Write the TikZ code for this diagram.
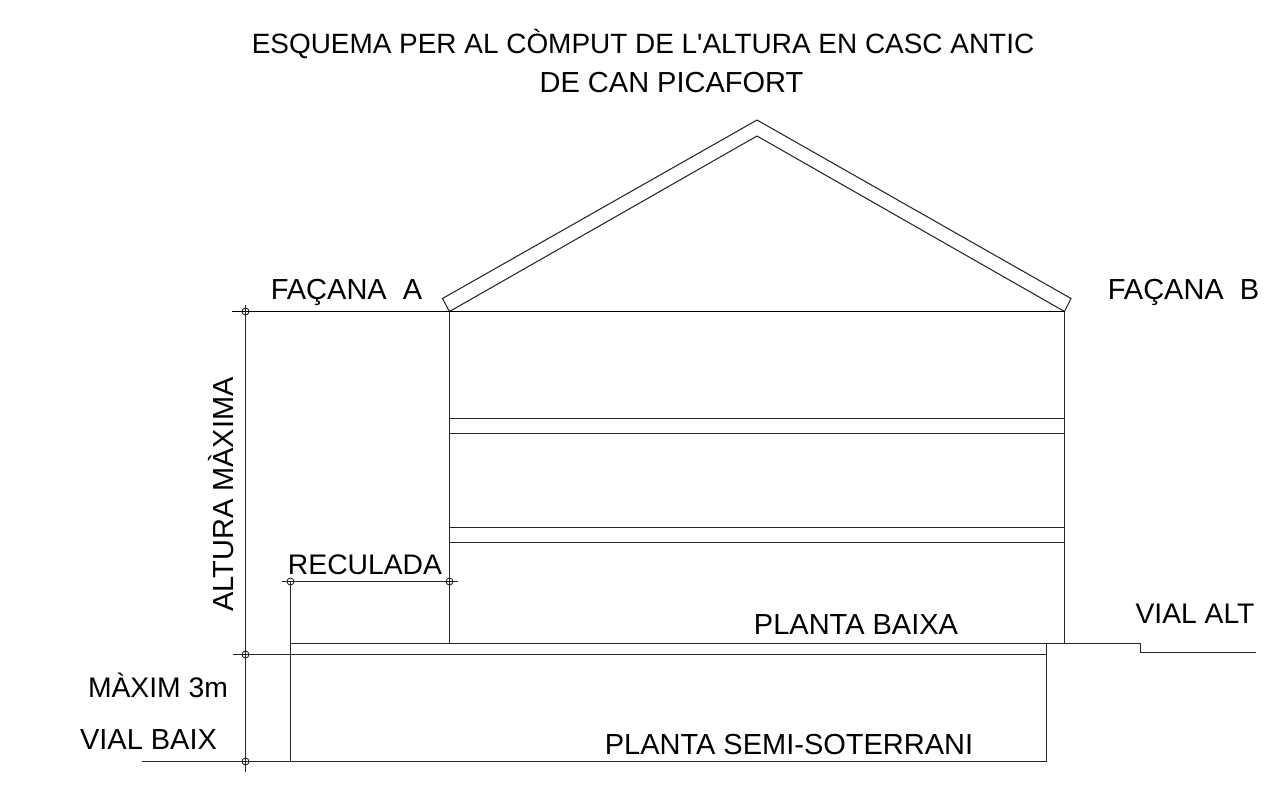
\documentclass[tikz,border=0pt]{standalone}
\usepackage{fontspec}
\setmainfont{Liberation Sans}
\usepackage{tikz}
\usetikzlibrary{positioning}
\tikzstyle{label} = [inner sep=0pt, anchor=base, text=black, font=\fontsize{16.5}{18}\selectfont]
\tikzstyle{tick} = [circle, draw=black!85, line width=0.5pt, minimum size=0.14cm, inner sep=0pt]
\tikzstyle{wall} = [line width=0.6pt, draw=black!85]
\begin{document}
\begin{tikzpicture}[x=0.02cm,y=-0.02cm]
 \useasboundingbox (0,0) rectangle (1274,788);
% texts
 \node[label,font=\fontsize{15.9}{18}\selectfont] (title) at (643,53.5) {ESQUEMA PER AL CÒMPUT DE L\textquotesingle ALTURA EN CASC ANTIC};
 \node[label] (subtitle) at (671.5,92.5) {DE CAN PICAFORT};
 \node[label] (facanaa) at (346.5,299) {FAÇANA\ \ A};
 \node[label] (facanab) at (1183.5,299) {FAÇANA\ \ B};
 \node[label,rotate=90] (altura) at (233,494.5) {ALTURA MÀXIMA};
 \node[label,font=\fontsize{16.1}{18}\selectfont] (reculada) at (365,574) {RECULADA};
 \node[label] (baixa) at (856,634.5) {PLANTA BAIXA};
 \node[label,font=\fontsize{16.1}{18}\selectfont] (vialalt) at (1195,623) {VIAL ALT};
 \node[label,font=\fontsize{16.1}{18}\selectfont] (maxim) at (158,697) {MÀXIM 3m};
 \node[label] (vialbaix) at (148.5,749) {VIAL BAIX};
 \node[label] (semi) at (789,754.5) {PLANTA SEMI-SOTERRANI};
% roof
 \coordinate (wallatop) at (449.5,311.5);
 \coordinate (wallbtop) at (1064.5,311.5);
 \coordinate (apexin) at (757,136);
 \coordinate (apexout) at (757,120);
 \coordinate (eavea) at (442.5,298.5);
 \coordinate (eaveb) at (1071,298.5);
 \draw[wall] (wallatop) -- (eavea) -- (apexout) -- (eaveb) -- (wallbtop);
 \draw[wall] (wallatop) -- (apexin) -- (wallbtop);
% walls and floors
 \coordinate (wallabot) at (449.5,643.5);
 \coordinate (wallbbot) at (1064.5,643.5);
 \draw[wall] (wallatop) -- (wallabot);
 \draw[wall] (wallbtop) -- (wallbbot);
 \draw[wall] (449.5,418.5) -- (1064.5,418.5);
 \draw[wall] (449.5,433.5) -- (1064.5,433.5);
 \draw[wall] (449.5,527.5) -- (1064.5,527.5);
 \draw[wall] (449.5,542.5) -- (1064.5,542.5);
% ticks
 \node[tick] (dimtop) at (245.5,311.5) {};
 \node[tick] (dimmid) at (245.5,654.5) {};
 \node[tick] (dimbot) at (245.5,761.5) {};
 \node[tick] (recleft) at (290.5,581.5) {};
 \node[tick] (recright) at (449.5,581.5) {};
% ground and dimensions
 \coordinate (topstart) at (232,311.5);
 \draw[wall,line width=0.8pt,draw=black] (topstart) -- (wallatop) -- (wallbtop);
 \coordinate (dimstart) at (245.5,305);
 \coordinate (dimend) at (245.5,772);
 \draw[wall] (dimstart) -- (dimend);
 \coordinate (recstart) at (282,581.5);
 \coordinate (recend) at (458,581.5);
 \draw[wall] (recstart) -- (recend);
 \coordinate (floorleft) at (290.5,643.5);
 \coordinate (lowleft) at (290.5,761.5);
 \draw[wall] (recleft.center) -- (lowleft);
 \coordinate (floorstep) at (1140.5,643.5);
 \coordinate (stepbot) at (1140.5,652.5);
 \coordinate (vialend) at (1256,652.5);
 \draw[wall] (floorleft) -- (floorstep) -- (stepbot) -- (vialend);
 \coordinate (midstart) at (233,654.5);
 \coordinate (midend) at (1046.5,654.5);
 \draw[wall] (midstart) -- (midend);
 \coordinate (semitop) at (1046.5,643.5);
 \coordinate (semibot) at (1046.5,761.5);
 \coordinate (baixstart) at (142,761.5);
 \draw[wall] (semitop) -- (semibot) -- (baixstart);
\end{tikzpicture}
\end{document}
